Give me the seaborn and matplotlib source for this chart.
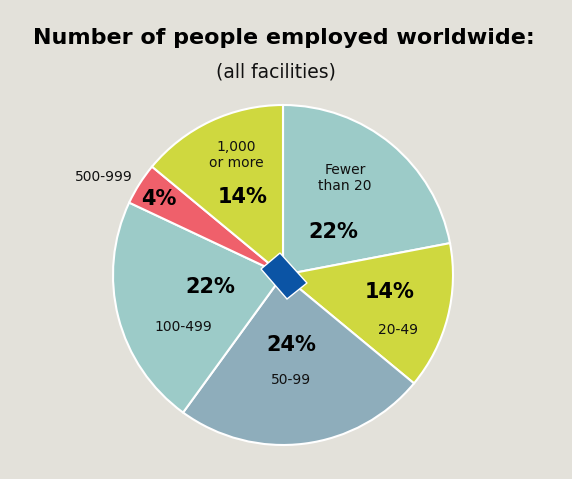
import matplotlib
matplotlib.use("Agg")
import matplotlib.pyplot as plt
import seaborn as sns
from matplotlib.patches import Polygon

sns.set_theme(style="white")
plt.rcParams['font.family'] = ['DejaVu Sans']

## Data
categories = ["Fewer\nthan 20", "20-49", "50-99", "100-499", "500-999", "1,000\nor more"]
shares = [22, 14, 24, 22, 4, 14]

bg = "#e3e1da"
teal = "#9ccbc8"
lime = "#cfd83f"
slate = "#8eadbb"
red = "#ef606b"
palette = sns.color_palette([teal, lime, slate, teal, red, lime])

W, H = 572, 479
fig = plt.figure(figsize=(W / 100, H / 100), dpi=100, facecolor=bg)

# pie centre (283, 275) px, radius 170 px
cx, cy, r = 283, 275, 170
ax = fig.add_axes([(cx - r) / W, (H - cy - r) / H, 2 * r / W, 2 * r / H])
ax.set_facecolor(bg)

wedges, _ = ax.pie(shares, colors=palette, startangle=90, counterclock=False,
                   radius=1, wedgeprops=dict(edgecolor="white", linewidth=1.5))
ax.set_xlim(-1, 1)
ax.set_ylim(-1, 1)
ax.set_aspect("equal")
ax.axis("off")

def px(x, y):
    return (x - cx) / r, (cy - y) / r

# label placement (pixel positions)
pct_pos = [(333, 232), (390, 292), (291, 345), (210, 287), (159, 199), (243, 197)]
cat_pos = [(345, 178), (398, 330), (291, 380), (183, 327), (104, 177), (236, 155)]

for name, v, pp, cp in zip(categories, shares, pct_pos, cat_pos):
    ax.text(*px(*pp), f"{v}%", ha="center", va="center", fontsize=15,
            fontweight="bold", color="black")
    ax.text(*px(*cp), name, ha="center", va="center", fontsize=10,
            color="#111111", linespacing=1.1)

# centre diamond
corners = [px(261, 269), px(280, 253), px(307, 283), px(287, 299)]
ax.add_patch(Polygon(corners, closed=True, facecolor="#0b54a5",
                     edgecolor="white", linewidth=1, zorder=5))

fig.text(284 / W, 1 - 38 / H, "Number of people employed worldwide:",
         ha="center", va="center", fontsize=16, fontweight="bold", color="black")
fig.text(276 / W, 1 - 72 / H, "(all facilities)", ha="center", va="center",
         fontsize=13.5, color="#111111")

plt.savefig("out.png", dpi=100, facecolor=bg)
